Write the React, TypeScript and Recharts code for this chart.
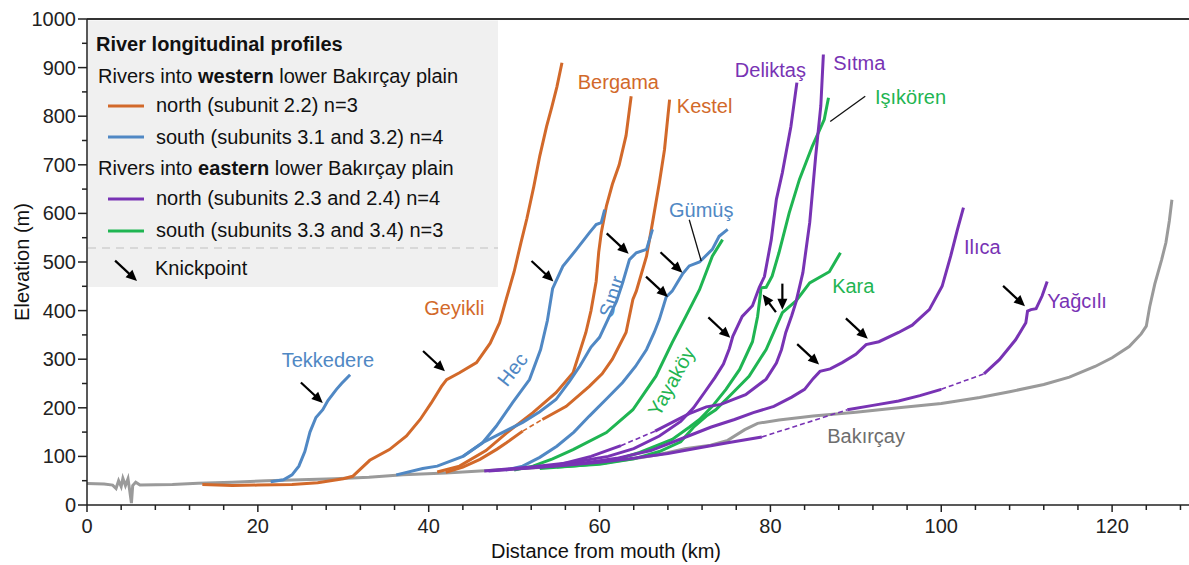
import React from 'react';
import { LineChart, Line, XAxis, YAxis, ReferenceDot, ReferenceLine } from 'recharts';

type P = [number, number];

const ORANGE = '#D2692A';
const BLUE = '#5088C4';
const PURPLE = '#7833B4';
const GREEN = '#1FB552';
const GREY = '#9A9A9A';

// distance from mouth (km), elevation (m)
const bakircay: P[] = [[0,44],[2,43],[3,41],[3.4,34],[3.7,50],[4,38],[4.2,55],[4.5,40],[4.8,54],[5.0,30],[5.2,4],[5.35,40],[5.7,47],[6.2,41],[10,42],[13,45],[17,47],[21,50],[25,52],[29,54],[33,57],[37,62],[42,66],[47,71],[52,76],[57,82],[61,88],[64,95],[67,104],[70,116],[73,123],[75,133],[77,155],[78.5,168],[81,175],[85,183],[90,191],[95,200],[100,209],[104.5,221],[108,233],[112,248],[115,263],[118,285],[120,303],[122,326],[123.4,352],[124,368],[124.4,408],[125,455],[125.8,505],[126.3,540],[126.7,585],[127,628]];

const tekkedere: P[] = [[21.5,48],[23,52],[24,62],[24.8,80],[25.5,110],[26.1,150],[26.8,180],[27.6,196],[28.2,215],[29.2,238],[29.8,250],[30.8,268]];
const geyikli: P[] = [[13.5,42],[17,40],[20,41],[24,42],[27,46],[30,54],[31.1,59],[33.1,92],[35.4,114],[37.4,142],[39,176],[40.3,210],[41.5,244],[42.1,258],[43.6,272],[45.6,293],[47.2,333],[48.3,375],[49.1,425],[50,480],[50.8,540],[51.5,590],[52.3,655],[53,718],[53.8,779],[54.4,818],[55,860],[55.6,910]];
const bergama: P[] = [[41,68],[43.6,80],[46.7,112],[49.1,148],[52.2,190],[54.9,231],[56.9,272],[58.4,355],[59,400],[59.6,460],[59.9,520],[60.2,560],[60.8,615],[61.5,660],[62.3,700],[63.1,760],[63.7,841]];
const kestelA: P[] = [[42,67],[44,78],[46,94],[48,115],[49.1,128],[51,152]];
const kestelGap: P[] = [[51,152],[53.3,176]];
const kestelB: P[] = [[53.3,176],[56.1,203],[58.8,244],[60.3,270],[61.5,300],[63.1,355],[63.9,423],[64.3,440],[65.5,512],[66.2,581],[67,663],[67.6,731],[68,800],[68.2,834]];

const hec: P[] = [[36.2,62],[39.3,75],[41,80],[44,100],[46.3,128],[47.9,162],[49.8,210],[51.8,258],[53.1,320],[53.9,380],[54.5,445],[55.7,491],[57.3,526],[58.8,560],[59.6,577],[60.2,581],[60.6,608]];
const sinir: P[] = [[44,100],[46.3,128],[48.5,148],[51,170],[53,192],[54.9,217],[56.5,255],[57.7,286],[59,325],[60,345],[61.2,390],[62,420],[62.7,457],[63.5,505],[64.3,519],[65.5,526],[66.2,567]];
const gumus: P[] = [[49,72],[51,80],[53,98],[55,121],[57,150],[58.8,183],[60.8,218],[62.7,252],[64.2,285],[65.5,320],[66.4,355],[67,382],[67.8,428],[68.5,440],[69.7,475],[70.5,492],[71.7,500],[73.2,526],[74,553],[75,567]];

const yaykoy: P[] = [[50,72],[52.2,80],[54.5,95],[56.9,114],[60.8,149],[63.9,196],[66.6,265],[68.5,334],[70.1,388],[71.7,443],[73.2,512],[74.4,546]];
const isikoren: P[] = [[53,75],[57,80],[60.8,87],[64.7,108],[68.5,135],[70.5,160],[71.7,176],[73.2,203],[74.8,238],[76.4,279],[77.9,336],[78.5,388],[78.8,430],[78.9,447],[79.5,448],[80.2,471],[81,519],[82.2,601],[83.4,670],[84.9,738],[86.3,793],[86.8,838]];
const kara: P[] = [[55,78],[60,84],[64,95],[67,110],[69.5,130],[71,160],[72.5,183],[73.6,196],[75.6,231],[77.5,265],[79.5,320],[80.7,368],[81.4,396],[83,420],[84.6,457],[86.9,480],[88.2,519]];

const deliktas: P[] = [[46.5,70],[52,78],[57,88],[61,100],[64,116],[67,142],[69.5,172],[71,200],[72.3,232],[73.5,262],[74.5,290],[75.2,322],[75.6,347],[76.7,388],[77.9,410],[78.7,448],[79.3,470],[80.1,546],[80.7,629],[81.4,684],[82.4,779],[83.1,869]];
const sitmaA: P[] = [[50,74],[55,82],[59,100],[62.5,122]];
const sitmaGap: P[] = [[62.5,122],[66.5,152]];
const sitmaB: P[] = [[66.5,152],[68.5,170],[70.5,188],[72.5,202],[74.2,207],[75.6,217],[77.1,227],[79.5,259],[80.7,292],[81.3,320],[81.8,355],[82.5,390],[83,418],[83.8,478],[84.6,581],[85.3,718],[85.9,821],[86.2,927]];
const ilica: P[] = [[53,78],[58,86],[62,96],[66,112],[70.4,142],[73,160],[75.8,176],[78,190],[80.4,203],[82.5,222],[84,238],[85,260],[85.8,275],[87,280],[88.4,293],[90,310],[91.2,330],[92.7,336],[95,355],[96.6,370],[98.6,402],[100.1,450],[101.1,512],[101.9,567],[102.6,612]];
const yagciliA: P[] = [[47,70],[55,80],[60,88],[63.5,95],[68,106],[71.7,118],[75,128],[79,140]];
const yagciliGap1: P[] = [[79,140],[89,196]];
const yagciliB: P[] = [[89,196],[92,205],[95,214],[97.5,225],[100,238]];
const yagciliGap2: P[] = [[100,238],[105,270]];
const yagciliC: P[] = [[105,270],[106.8,299],[108.7,340],[109.9,375],[110.1,399],[110.5,402],[111.1,404],[111.8,430],[112.4,460]];

// knickpoint arrow tips: km, m, direction
const knickpoints: [number, number, string][] = [
  [27.6,210,'se'],[41.9,275,'se'],[54.6,460,'se'],[63.4,517,'se'],[69.7,478,'se'],[68,428,'se'],
  [75.3,344,'se'],[79.1,433,'nw'],[81.4,402,'s'],[85.7,289,'se'],[91.4,342,'se'],[109.8,409,'se'],
];

// name, km, m, colour, rotation
const riverLabels: [string, number, number, string, number][] = [
  ['Tekkedere',28.2,299,BLUE,0],['Geyikli',43.0,406,ORANGE,0],['Hec',49.8,279,BLUE,-52],
  ['Bergama',62.2,871,ORANGE,0],['Kestel',72.3,820,ORANGE,0],['Gümüş',71.9,608,BLUE,0],
  ['Sınır',61.4,429,BLUE,-72],['Yayaköy',68.4,254,GREEN,-61],['Deliktaş',80,896,PURPLE,0],
  ['Sıtma',90.4,910,PURPLE,0],['Işıkören',96.4,840,GREEN,0],['Kara',89.7,450,GREEN,0],
  ['Ilıca',104.8,530,PURPLE,0],['Yağcılı',115.9,419,PURPLE,0],['Bakırçay',91.2,141,'#6E6E6E',0],
];

const leaders: [P, P][] = [[[70.5,587],[71.9,502]],[[91.1,841],[87,789]]];

const xTicks = Array.from({ length: 33 }, (_, i) => i * 4);
const yTicks = Array.from({ length: 21 }, (_, i) => i * 50);

const series: { pts: P[]; color: string; dashed?: boolean }[] = [
  { pts: bakircay, color: GREY },
  { pts: geyikli, color: ORANGE }, { pts: bergama, color: ORANGE },
  { pts: kestelA, color: ORANGE }, { pts: kestelGap, color: ORANGE, dashed: true }, { pts: kestelB, color: ORANGE },
  { pts: tekkedere, color: BLUE }, { pts: hec, color: BLUE }, { pts: sinir, color: BLUE }, { pts: gumus, color: BLUE },
  { pts: yaykoy, color: GREEN }, { pts: isikoren, color: GREEN }, { pts: kara, color: GREEN },
  { pts: deliktas, color: PURPLE }, { pts: sitmaA, color: PURPLE }, { pts: sitmaGap, color: PURPLE, dashed: true },
  { pts: sitmaB, color: PURPLE }, { pts: ilica, color: PURPLE },
  { pts: yagciliA, color: PURPLE }, { pts: yagciliGap1, color: PURPLE, dashed: true }, { pts: yagciliB, color: PURPLE },
  { pts: yagciliGap2, color: PURPLE, dashed: true }, { pts: yagciliC, color: PURPLE },
];

const FONT = '"Liberation Sans", Arial, sans-serif';

const XTick = (props: any) => {
  const { x, y, payload } = props;
  const major = payload.value % 20 === 0;
  return (
    <g>
      <line x1={x} x2={x} y1={y} y2={y + (major ? 7 : 5)} stroke="#222" strokeWidth={1.5} />
      {major && (
        <text x={x} y={y + 28} textAnchor="middle" fontSize={20} fill="#222" fontFamily={FONT}>{payload.value}</text>
      )}
    </g>
  );
};

const YTick = (props: any) => {
  const { x, y, payload } = props;
  const major = payload.value % 100 === 0;
  return (
    <g>
      <line x1={x} x2={x - (major ? 9 : 5)} y1={y} y2={y} stroke="#222" strokeWidth={1.5} />
      {major && (
        <text x={x - 11} y={y + 7} textAnchor="end" fontSize={20} fill="#222" fontFamily={FONT}>{payload.value}</text>
      )}
    </g>
  );
};

const Arrow = ({ cx, cy, dir }: { cx: number; cy: number; dir: string }) => {
  let dx = 0.73, dy = 0.68, len = 30;
  if (dir === 'nw') { dx = -0.6; dy = -0.8; len = 22; }
  if (dir === 's') { dx = 0; dy = 1; len = 26; }
  const head = 11, hw = 5;
  const bx = cx - dx * head, by = cy - dy * head;
  return (
    <g>
      <line x1={cx - dx * len} y1={cy - dy * len} x2={bx + dx * 2} y2={by + dy * 2} stroke="#000" strokeWidth={2.2} />
      <polygon points={`${cx},${cy} ${bx - dy * hw},${by + dx * hw} ${bx + dy * hw},${by - dx * hw}`} fill="#000" />
    </g>
  );
};

const Legend = () => (
  <svg width={1189} height={565} style={{ position: 'absolute', left: 0, top: 0, pointerEvents: 'none' }} fontFamily={FONT}>
    <rect x={88} y={20.5} width={410} height={266.5} fill="#F0F0F0" />
    <text x={96} y={51} fontSize={20} fontWeight="bold" fill="#111">River longitudinal profiles</text>
    <text x={98} y={83} fontSize={20} fill="#111">Rivers into <tspan fontWeight="bold">western</tspan> lower Bakırçay plain</text>
    <line x1={108} x2={144} y1={106} y2={106} stroke={ORANGE} strokeWidth={3} />
    <text x={156} y={112} fontSize={20} fill="#111">north (subunit 2.2) n=3</text>
    <line x1={108} x2={144} y1={137} y2={137} stroke={BLUE} strokeWidth={3} />
    <text x={156} y={144} fontSize={20} fill="#111">south (subunits 3.1 and 3.2) n=4</text>
    <text x={98} y={175} fontSize={20} fill="#111">Rivers into <tspan fontWeight="bold">eastern</tspan> lower Bakırçay plain</text>
    <line x1={108} x2={144} y1={199} y2={199} stroke={PURPLE} strokeWidth={3} />
    <text x={156} y={205} fontSize={20} fill="#111">north (subunits 2.3 and 2.4) n=4</text>
    <line x1={108} x2={144} y1={231} y2={231} stroke={GREEN} strokeWidth={3} />
    <text x={156} y={237} fontSize={20} fill="#111">south (subunits 3.3 and 3.4) n=3</text>
    <line x1={88} x2={498} y1={248} y2={248} stroke="#CFCFCF" strokeWidth={1.3} strokeDasharray="8 6" />
    <Arrow cx={137} cy={281} dir="se" />
    <text x={155} y={275} fontSize={20} fill="#111">Knickpoint</text>
    <text x={0} y={0} fontSize={20} fill="#111" textAnchor="middle" transform="translate(29,262) rotate(-90)">Elevation (m)</text>
    <text x={606} y={558} fontSize={20} fill="#111" textAnchor="middle">Distance from mouth (km)</text>
  </svg>
);

export default function App() {
  return (
    <div style={{ position: 'absolute', left: 0, top: 0, width: 1189, height: 565, background: '#fff' }}>
      <LineChart width={1189} height={565} margin={{ top: 19, right: 0, bottom: 0, left: 0 }}>
        <XAxis type="number" dataKey="x" domain={[0, 129]} ticks={xTicks} interval={0} tick={<XTick />}
          tickLine={false} tickSize={0} tickMargin={0} height={60} stroke="#222" strokeWidth={1.5} allowDataOverflow />
        <YAxis type="number" dataKey="y" domain={[0, 1000]} ticks={yTicks} interval={0} tick={<YTick />}
          tickLine={false} tickSize={0} tickMargin={0} width={87} stroke="#222" strokeWidth={1.5} allowDataOverflow />
        <ReferenceLine y={1000} stroke="#333" strokeWidth={2} />
        {series.map((s, i) => (
          <Line key={i} data={s.pts.map(([x, y]) => ({ x, y }))} dataKey="y" type="linear" stroke={s.color}
            strokeWidth={s.dashed ? 1.6 : 3} strokeDasharray={s.dashed ? '5 3' : undefined} dot={false}
            isAnimationActive={false} />
        ))}
        {leaders.map(([a, b], i) => (
          <ReferenceLine key={'l' + i} segment={[{ x: a[0], y: a[1] }, { x: b[0], y: b[1] }]} stroke="#111" strokeWidth={1.3} />
        ))}
        {knickpoints.map(([x, y, d], i) => (
          <ReferenceDot key={'k' + i} x={x} y={y} r={1} shape={(p: any) => <Arrow cx={p.cx} cy={p.cy} dir={d} />} />
        ))}
        {riverLabels.map(([name, x, y, c, rot], i) => (
          <ReferenceDot key={'t' + i} x={x} y={y} r={1} shape={(p: any) => (
            <text x={p.cx} y={p.cy} dy={7} textAnchor="middle" fontSize={20} fill={c} fontFamily={FONT}
              transform={rot ? `rotate(${rot} ${p.cx} ${p.cy})` : undefined}>{name}</text>
          )} />
        ))}
      </LineChart>
      <Legend />
    </div>
  );
}
